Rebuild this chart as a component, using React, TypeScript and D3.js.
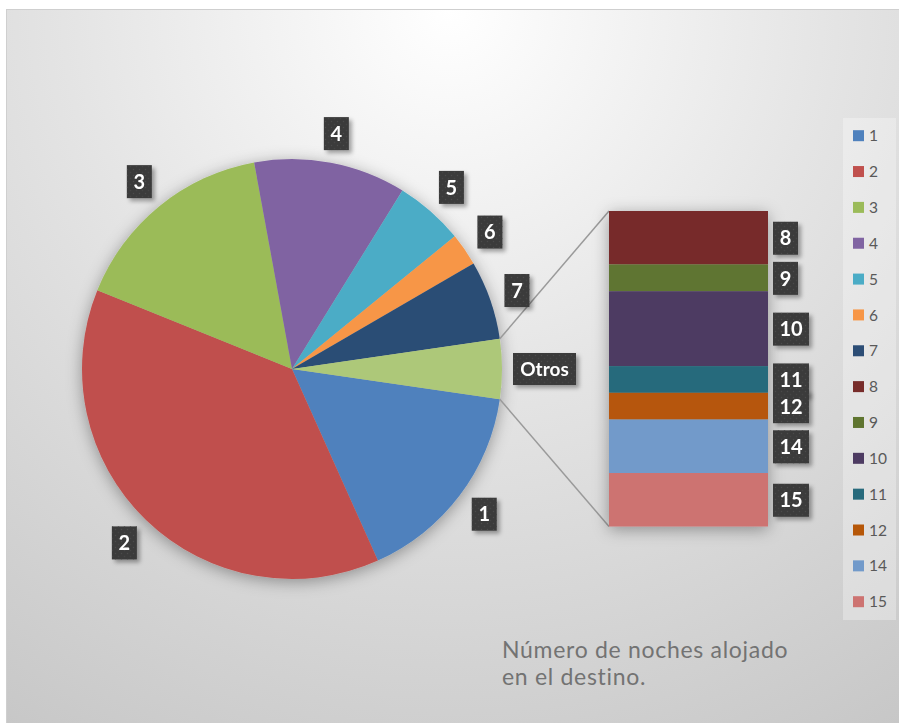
import React from "react";
import * as d3 from "d3";

const pieLabels = ["1", "2", "3", "4", "5", "6", "7"];
const pieValues = [41, 97, 41, 30, 13.6, 6.4, 15.6];
const otrosLabel = "Otros";
const barLabels = ["8", "9", "10", "11", "12", "14", "15"];
const barValues = [2, 1, 2.8, 1, 1, 2, 2];
const pieColors = ["#4F81BD", "#C0504D", "#9BBB59", "#8064A2", "#4BACC6", "#F79646", "#2C4D75", "#ADC879"];
const barColors = ["#772C2A", "#5F7530", "#4D3B62", "#276A7C", "#B65708", "#729ACA", "#CD7371"];
const legendLabels = ["1", "2", "3", "4", "5", "6", "7", "8", "9", "10", "11", "12", "14", "15"];
const legendColors = ["#4F81BD", "#C0504D", "#9BBB59", "#8064A2", "#4BACC6", "#F79646", "#2C4D75", "#772C2A", "#5F7530", "#4D3B62", "#276A7C", "#B65708", "#729ACA", "#CD7371"];
const footerLines = ["Número de noches alojado", "en el destino."];

const W = 899;
const H = 723;

function LabelBox({ x, y, w, h, text }: { x: number; y: number; w: number; h: number; text: string }) {
  return (
    <g filter="url(#lblShadow)">
      <rect x={x - w / 2} y={y - h / 2} width={w} height={h} fill="#3a3a3a" />
      <rect x={x - w / 2} y={y - h / 2} width={w} height={h} fill="url(#dots)" />
      <text x={x} y={y} dy="0.36em" textAnchor="middle" fill="#ffffff" fontFamily="Lato, 'Open Sans', sans-serif" fontWeight={700} fontSize={text.length > 2 ? 19 : 20}>
        {text}
      </text>
    </g>
  );
}

export default function App() {
  const cx = 292, cy = 369, r = 210;
  const otros = d3.sum(barValues);
  const all = [...pieValues, otros];
  const labels = [...pieLabels, otrosLabel];
  const total = d3.sum(all);
  const otrosAngle = (otros / total) * Math.PI * 2;
  const start = Math.PI / 2 + otrosAngle / 2;
  const arcsData = d3.pie<number>().sort(null).startAngle(start).endAngle(start + Math.PI * 2)(all);
  const arcGen = d3.arc<d3.PieArcDatum<number>>().innerRadius(0).outerRadius(r);

  const barX0 = 609, barX1 = 768;
  const yScale = d3.scaleLinear().domain([0, otros]).range([211, 526.5]);
  const cum = [0, ...d3.cumsum(barValues)];

  const upper = { x: cx + r * Math.cos(-otrosAngle / 2), y: cy + r * Math.sin(-otrosAngle / 2) };
  const lower = { x: cx + r * Math.cos(otrosAngle / 2), y: cy + r * Math.sin(otrosAngle / 2) };

  const legendY = d3.scaleLinear().domain([0, legendLabels.length - 1]).range([135.7, 601.7]);

  const boxW = (t: string) => (t.length === 1 ? 25 : t.length === 2 ? 36 : 63);

  return (
    <svg width={W} height={H} style={{ position: "absolute", left: 0, top: 0, display: "block" }}>
      <defs>
        <radialGradient id="bg" gradientUnits="userSpaceOnUse" cx={450} cy={10} r={860}>
          <stop offset="0" stopColor="#ffffff" />
          <stop offset="0.45" stopColor="#e4e4e4" />
          <stop offset="1" stopColor="#c6c6c6" />
        </radialGradient>
        <filter id="pieShadow" x="-20%" y="-20%" width="140%" height="140%">
          <feDropShadow dx="0" dy="3" stdDeviation="8" floodColor="#000" floodOpacity="0.35" />
        </filter>
        <filter id="lblShadow" x="-30%" y="-30%" width="170%" height="170%">
          <feDropShadow dx="3" dy="3" stdDeviation="2" floodColor="#000" floodOpacity="0.35" />
        </filter>
        <pattern id="dots" width="6" height="6" patternUnits="userSpaceOnUse">
          <circle cx="1.5" cy="1.5" r="0.8" fill="#4c4c4c" />
          <circle cx="4.5" cy="4.5" r="0.8" fill="#454545" />
        </pattern>
      </defs>
      <rect x={0} y={0} width={W} height={H} fill="#ffffff" />
      <rect x={6.5} y={9.5} width={W} height={H} fill="url(#bg)" stroke="#cfcfcf" strokeWidth={1} />

      <g filter="url(#pieShadow)">
        <g transform={`translate(${cx},${cy})`}>
          {arcsData.map((a, i) => (
            <path key={i} d={arcGen(a) || ""} fill={pieColors[i]} />
          ))}
        </g>
      </g>

      <line x1={upper.x} y1={upper.y} x2={barX0} y2={yScale(0)} stroke="#9a9a9a" strokeWidth={1.5} />
      <line x1={lower.x} y1={lower.y} x2={barX0} y2={yScale(otros)} stroke="#9a9a9a" strokeWidth={1.5} />

      <g filter="url(#pieShadow)">
        {barValues.map((v, i) => (
          <rect key={i} x={barX0} y={yScale(cum[i])} width={barX1 - barX0} height={yScale(cum[i + 1]) - yScale(cum[i])} fill={barColors[i]} />
        ))}
      </g>

      {arcsData.map((a, i) => {
        const mid = (a.startAngle + a.endAngle) / 2;
        const ux = Math.sin(mid), uy = -Math.cos(mid);
        const w = boxW(labels[i]);
        const h = labels[i].length > 2 ? 32 : 33;
        const dist = r + 11 + (w / 2) * Math.abs(ux) + (h / 2) * Math.abs(uy);
        return <LabelBox key={i} x={cx + ux * dist} y={cy + uy * dist} w={w} h={h} text={labels[i]} />;
      })}

      {barValues.map((v, i) => {
        const w = boxW(barLabels[i]);
        const yc = (yScale(cum[i]) + yScale(cum[i + 1])) / 2;
        return <LabelBox key={i} x={773 + w / 2} y={yc + 0.5} w={w} h={33} text={barLabels[i]} />;
      })}

      <rect x={843} y={118} width={53} height={502} fill="#ffffff" fillOpacity={0.3} />
      {legendLabels.map((l, i) => (
        <g key={i}>
          <rect x={853} y={legendY(i) - 5.5} width={11} height={11} fill={legendColors[i]} />
          <text x={869} y={legendY(i)} dy="0.36em" fill="#595959" fontFamily="Lato, 'Open Sans', sans-serif" fontSize={15.5}>
            {l}
          </text>
        </g>
      ))}

      {footerLines.map((t, i) => (
        <text key={i} x={502} y={658 + i * 27} fill="#737373" fontFamily="Lato, 'Open Sans', sans-serif" fontSize={23} letterSpacing={0.7}>
          {t}
        </text>
      ))}
    </svg>
  );
}
